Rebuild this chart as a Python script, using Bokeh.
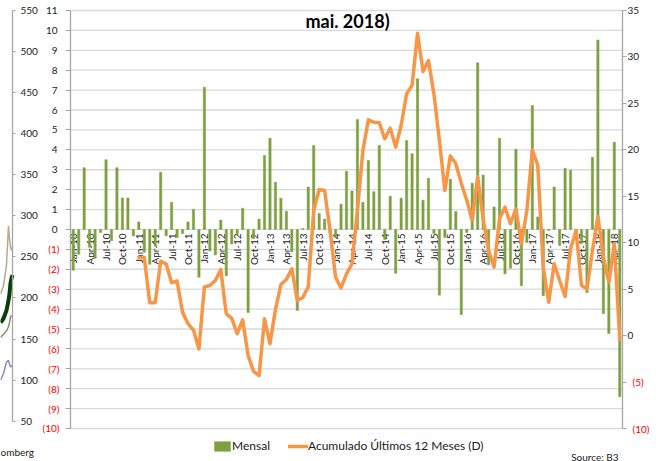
from math import pi
from bokeh.plotting import figure
from bokeh.models import (Range1d, LinearAxis, FixedTicker, Legend, LegendItem, Label)
from bokeh.embed import file_html
from bokeh.resources import INLINE
from bokeh.core.properties import value

FONT = "Lato"
TXT = "#1a1a1a"
AXC = "#A6A6A6"
GREEN = "#7EA040"
ORANGE = "#F79646"
RED = "#FF0000"

# ---------------- data ----------------
tick_labels = ["Jan-10", "Apr-10", "Jul-10", "Oct-10",
               "Jan-11", "Apr-11", "Jul-11", "Oct-11",
               "Jan-12", "Apr-12", "Jul-12", "Oct-12",
               "Jan-13", "Apr-13", "Jul-13", "Oct-13",
               "Jan-14", "Apr-14", "Jul-14", "Oct-14",
               "Jan-15", "Apr-15", "Jul-15", "Oct-15",
               "Jan-16", "Apr-16", "Jul-16", "Oct-16",
               "Jan-17", "Apr-17", "Jul-17", "Oct-17",
               "Jan-18", "Apr-18"]

# Mensal (left axis), Jan-10 .. May-18
mensal = [-2.05, -1.25, 3.1, -0.9, -1.45, -0.15, 3.5, -0.57, 3.1, 1.58, 1.58, -0.33,
          0.38, -1.15, -1.75, -0.85, 2.87, -0.32, 1.37, -0.4, -0.2, 0.38, 1.02, -2.4,
          7.15, -1.08, -1.28, 0.47, -2.32, -0.73, -0.25, 1.07, -4.17, -0.45, 0.52, 3.72,
          4.58, 2.37, 1.57, 0.92, -1.12, -4.07, 0.05, 2.13, 4.22, 0.8, 0.52, -0.2,
          -0.4, 1.27, 2.92, 1.93, 5.53, 1.37, 3.47, 1.9, 4.22, -0.5, 1.67, -2.2,
          1.57, 4.47, 3.8, 7.57, 1.47, 2.57, -0.2, -3.3, -0.4, 2.52, 0.9, -4.28,
          -0.15, 2.32, 8.37, 2.73, -1.78, 1.13, 4.58, -2.23, -1.95, 4.03, -2.83, -0.65,
          6.23, 0.63, -3.33, -0.05, 2.13, -0.8, 3.07, 2.97, -0.4, -0.7, -3.17, 3.63,
          9.52, -4.23, -5.23, 4.38, -8.4]

# Acumulado ultimos 12 meses (right axis), Jan-11 .. May-18
acum_start = 12
acum = [8.44, 8.4, 3.53, 3.55, 8.0, 7.7, 5.7, 5.88, 2.5, 1.3, 0.6, -1.43,
        5.25, 5.4, 5.93, 7.1, 2.35, 1.85, 0.2, 1.7, -2.14, -3.85, -4.3, 1.81,
        -0.88, 2.8, 5.5, 6.05, 7.19, 3.78, 4.1, 5.25, 13.47, 15.73, 15.62, 11.3,
        6.29, 5.14, 6.65, 7.73, 13.47, 19.93, 23.23, 22.98, 22.91, 21.19, 22.33, 20.29,
        22.62, 26.03, 26.93, 32.56, 28.43, 29.62, 26.0, 21.0, 15.62, 19.35, 18.5, 16.4,
        14.6, 12.4, 17.1, 12.57, 9.16, 7.37, 12.57, 13.83, 12.04, 13.65, 9.88, 13.47,
        20.0, 18.31, 7.3, 3.6, 7.73, 5.93, 4.21, 9.34, 11.3, 5.39, 5.04, 9.16,
        12.82, 8.44, 5.75, 9.88, -0.4]

left_ticks = list(range(-10, 12))
right_ticks = [-10, -5, 0, 5, 10, 15, 20, 25, 30, 35]

# cropped neighbour chart (left edge of the picture)
frag_ticks = [50, 100, 150, 200, 250, 300, 350, 400, 450, 500, 550]
frag_x = [0, 3, 6, 8, 9, 10, 11, 12]
frag_tan = [205, 215, 240, 288, 272, 262, 258, 262]
frag_dark = [170, 175, 185, 197, 205, 218, 224, 228]
frag_light = [152, 156, 160, 165, 170, 177, 178, 179]
frag_purple = [100, 108, 122, 124, 120, 116, 117, 118]


def style_axis(ax, tick_out, standoff, color=TXT):
    ax.axis_line_color = AXC
    ax.axis_line_width = 1.3
    ax.major_tick_line_color = AXC
    ax.major_tick_out = tick_out
    ax.major_tick_in = 0
    ax.minor_tick_line_color = None
    ax.major_label_standoff = standoff
    ax.major_label_text_font = FONT
    ax.major_label_text_font_size = "10px"
    ax.major_label_text_color = color


def paren(t):
    return f"({-t})" if t < 0 else str(t)


n = len(mensal)
x_lo, x_hi = -0.5, n - 0.5

# single figure whose frame covers the whole canvas; axes are placed at fixed locations
p = figure(width=660, height=461, x_range=Range1d(-13.308, 107.453),
           y_range=Range1d(-11.6579, 11.5024), x_axis_location=None, y_axis_location=None,
           toolbar_location=None, output_backend="svg", min_border=0,
           outline_line_color=None)
p.extra_y_ranges = {"right": Range1d(-13.5526, 36.0766), "frag": Range1d(0.94, 562.17)}
p.extra_x_ranges = {"frag": Range1d(0, 660)}
p.grid.visible = False

# ---- cropped neighbour chart ----
for ys, col, w in [(frag_tan, "#B8AA8C", 1.5), (frag_light, "#7E9A60", 1.5),
                   (frag_purple, "#8C8CB4", 1.5), (frag_dark, "#0B3D0B", 4)]:
    p.line(frag_x, ys, x_range_name="frag", y_range_name="frag", line_color=col, line_width=w)
fa = LinearAxis(x_range_name="frag", y_range_name="frag", ticker=FixedTicker(ticks=frag_ticks),
                fixed_location=frag_x[-1])
fa.bounds = (50, 550)
style_axis(fa, 3, 5)
p.add_layout(fa, "right")
p.add_layout(Label(x=0, y=10, x_units="screen", y_units="screen", text="omberg",
                   text_font=FONT, text_font_size="10px", text_color=TXT,
                   text_align="left", text_baseline="alphabetic"))

# ---- gridlines (left-axis ticks, across the category span) ----
p.segment(x0=[x_lo] * len(left_ticks), x1=[x_hi] * len(left_ticks), y0=left_ticks,
          y1=left_ticks, line_color="#D9D9D9", line_width=1.3)

# ---- left axis: black non-negative, red negative labels ----
la = LinearAxis(ticker=FixedTicker(ticks=left_ticks), fixed_location=x_lo,
                major_label_overrides={t: "" for t in left_ticks if t < 0})
la.bounds = (-10, 11)
style_axis(la, 5, 8)
p.add_layout(la, "left")
lneg = [t for t in left_ticks if t < 0]
la_red = LinearAxis(ticker=FixedTicker(ticks=lneg), fixed_location=x_lo,
                    major_label_overrides={t: paren(t) for t in lneg})
style_axis(la_red, 5, 6, RED)
la_red.axis_line_color = None
la_red.major_tick_line_color = None
p.add_layout(la_red, "left")

# ---- right axis (D) ----
ra = LinearAxis(y_range_name="right", ticker=FixedTicker(ticks=right_ticks), fixed_location=x_hi,
                major_label_overrides={t: "" for t in right_ticks if t < 0})
ra.bounds = (-10, 35)
style_axis(ra, 4, 1)
p.add_layout(ra, "right")
rneg = [t for t in right_ticks if t < 0]
ra_red = LinearAxis(y_range_name="right", ticker=FixedTicker(ticks=rneg), fixed_location=x_hi,
                    major_label_overrides={t: paren(t) for t in rneg})
style_axis(ra_red, 4, 6, RED)
ra_red.axis_line_color = None
ra_red.major_tick_line_color = None
p.add_layout(ra_red, "right")

# ---- category labels at the zero line ----
tick_pos = [3 * k for k in range(len(tick_labels))]
p.text(x=tick_pos, y=[0] * len(tick_pos), text=tick_labels, angle=pi / 2,
       text_align="right", text_baseline="middle", y_offset=4,
       text_font=value(FONT), text_font_size="10px", text_color=TXT)

bars = p.vbar(x=list(range(n)), top=mensal, bottom=0, width=0.42,
              fill_color=GREEN, line_color=GREEN, line_width=0.5)
line = p.line(x=list(range(acum_start, acum_start + len(acum))), y=acum,
              y_range_name="right", line_color=ORANGE, line_width=3.5,
              line_join="round", line_cap="round")

legend = Legend(items=[LegendItem(label="Mensal", renderers=[bars]),
                       LegendItem(label="Acumulado Últimos 12 Meses (D)", renderers=[line])],
                location=(212, 8), orientation="horizontal",
                glyph_width=20, glyph_height=12, label_height=12, label_standoff=0,
                spacing=18, padding=0, margin=0, border_line_color=None,
                background_fill_alpha=0, label_text_font=FONT,
                label_text_font_size="12px", label_text_color=TXT)
p.add_layout(legend)

p.add_layout(Label(x=347, y=441, x_units="screen", y_units="screen", text="mai. 2018)",
                   text_font=FONT, text_font_style="bold", text_font_size="18px",
                   text_color="#000000", text_align="center", text_baseline="alphabetic"))
p.add_layout(Label(x=618, y=5, x_units="screen", y_units="screen", text="Source: B3",
                   text_font=FONT, text_font_size="10px", text_color=TXT,
                   text_align="right", text_baseline="alphabetic"))

open("out.html", "w").write(file_html(p, INLINE))
